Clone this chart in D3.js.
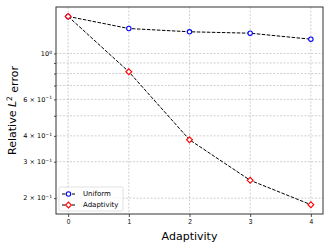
<!DOCTYPE html>
<html>
<head>
<meta charset="utf-8">
<script src="https://cdn.jsdelivr.net/npm/d3@7"></script>
<style>
  body { margin: 0; background: #fff; }
  svg { display: block; font-family: "DejaVu Sans", sans-serif; }
</style>
</head>
<body>
<div class="chart"></div>
<script>
// Data
const steps = [0, 1, 2, 3, 4];
const uniform = [1.51, 1.32, 1.273, 1.253, 1.172];
const adaptivity = [1.51, 0.816, 0.383, 0.244, 0.186];
const gridValues = [0.2, 0.3, 0.4, 0.5, 0.6, 0.7, 0.8, 0.9, 1.0];
const yTickValues = [1.0, 0.6, 0.4, 0.3, 0.2];
const yTickLabels = [["10", "0"], ["6 × 10", "−1"], ["4 × 10", "−1"], ["3 × 10", "−1"], ["2 × 10", "−1"]];

const margin = { top: 7, right: 9, bottom: 35, left: 56 };
const width = 332 - margin.left - margin.right;
const height = 249 - margin.top - margin.bottom;

const svg = d3.select(".chart").append("svg")
    .attr("width", 332)
    .attr("height", 249);
const g = svg.append("g")
    .attr("transform", "translate(" + margin.left + "," + margin.top + ")");

const x = d3.scaleLinear().domain([-0.2, 4.2]).range([0, width]);
const y = d3.scaleLog().domain([0.1677, 1.677]).range([height, 0]);

// grid
g.selectAll(".gx").data(steps).enter().append("line")
    .attr("x1", d => x(d)).attr("x2", d => x(d))
    .attr("y1", 0).attr("y2", height)
    .attr("stroke", "#b0b0b0").attr("stroke-width", 0.6)
    .attr("stroke-dasharray", "2,1.5");
g.selectAll(".gy").data(gridValues).enter().append("line")
    .attr("x1", 0).attr("x2", width)
    .attr("y1", d => y(d)).attr("y2", d => y(d))
    .attr("stroke", "#b0b0b0").attr("stroke-width", 0.6)
    .attr("stroke-dasharray", "2,1.5");

// axes
const xAxis = d3.axisBottom(x).tickValues(steps).tickFormat(d3.format("d")).tickSize(3).tickPadding(2);
g.append("g")
    .attr("transform", "translate(0," + height + ")")
    .call(xAxis)
    .call(a => a.select(".domain").remove())
    .call(a => a.selectAll("text").attr("font-size", 6.5).attr("fill", "#000"));

const yAxis = d3.axisLeft(y).tickValues(gridValues).tickFormat("").tickSize(2);
g.append("g")
    .call(yAxis)
    .call(a => a.select(".domain").remove());
const ylab = g.append("g").selectAll("text").data(yTickValues).enter().append("text")
    .attr("x", -4)
    .attr("y", d => y(d))
    .attr("dy", "0.35em")
    .attr("text-anchor", "end")
    .attr("font-size", 6.5);
ylab.each(function (d, i) {
    const t = d3.select(this);
    t.append("tspan").text(yTickLabels[i][0]);
    t.append("tspan").attr("font-size", 4.5).attr("dy", "-0.5em").text(yTickLabels[i][1]);
});
g.selectAll(".tick line").attr("stroke", "#000").attr("stroke-width", 0.7);

// frame
g.append("rect")
    .attr("width", width).attr("height", height)
    .attr("fill", "none").attr("stroke", "#333").attr("stroke-width", 1);

// lines
const line = d3.line().x((d, i) => x(steps[i])).y(d => y(d));
[uniform, adaptivity].forEach(s => {
    g.append("path")
        .datum(s)
        .attr("d", line)
        .attr("fill", "none")
        .attr("stroke", "#000")
        .attr("stroke-width", 1)
        .attr("stroke-dasharray", "3.5,1.5");
});

// markers
g.selectAll(".mu").data(uniform).enter().append("circle")
    .attr("cx", (d, i) => x(steps[i])).attr("cy", d => y(d))
    .attr("r", 2.2)
    .attr("fill", "#fff").attr("stroke", "blue").attr("stroke-width", 1.1);
const diamond = d3.symbol().type(d3.symbolDiamond2).size(22);
g.selectAll(".ma").data(adaptivity).enter().append("path")
    .attr("d", diamond)
    .attr("transform", (d, i) => "translate(" + x(steps[i]) + "," + y(d) + ")")
    .attr("fill", "#fff").attr("stroke", "red").attr("stroke-width", 1.1);

// legend
const legend = g.append("g").attr("transform", "translate(3," + (height - 27) + ")");
legend.append("rect")
    .attr("width", 64).attr("height", 24).attr("rx", 1.5)
    .attr("fill", "#fff").attr("fill-opacity", 0.8)
    .attr("stroke", "#ccc").attr("stroke-width", 0.6);
const entries = [["Uniform", "blue", "circle"], ["Adaptivity", "red", "diamond"]];
entries.forEach((e, i) => {
    const ly = 7 + i * 11;
    legend.append("line")
        .attr("x1", 3).attr("x2", 16).attr("y1", ly).attr("y2", ly)
        .attr("stroke", "#000").attr("stroke-width", 1).attr("stroke-dasharray", "3.5,1.5");
    if (e[2] === "circle") {
        legend.append("circle").attr("cx", 9.5).attr("cy", ly).attr("r", 2.2)
            .attr("fill", "#fff").attr("stroke", e[1]).attr("stroke-width", 1.1);
    } else {
        legend.append("path").attr("d", diamond)
            .attr("transform", "translate(9.5," + ly + ")")
            .attr("fill", "#fff").attr("stroke", e[1]).attr("stroke-width", 1.1);
    }
    legend.append("text")
        .attr("x", 24).attr("y", ly).attr("dy", "0.35em")
        .attr("font-size", 7).text(e[0]);
});

// axis titles
svg.append("text")
    .attr("x", margin.left + width / 2).attr("y", 240)
    .attr("text-anchor", "middle").attr("font-size", 11)
    .text("Adaptivity");
const yt = svg.append("text")
    .attr("transform", "translate(16," + (margin.top + height / 2) + ") rotate(-90)")
    .attr("text-anchor", "middle").attr("font-size", 11);
yt.append("tspan").text("Relative ");
yt.append("tspan").attr("font-style", "italic").text("L");
yt.append("tspan").attr("font-size", 7.5).attr("dy", "-0.5em").text("2");
yt.append("tspan").attr("dy", "0.5em").text(" error");
</script>
</body>
</html>
